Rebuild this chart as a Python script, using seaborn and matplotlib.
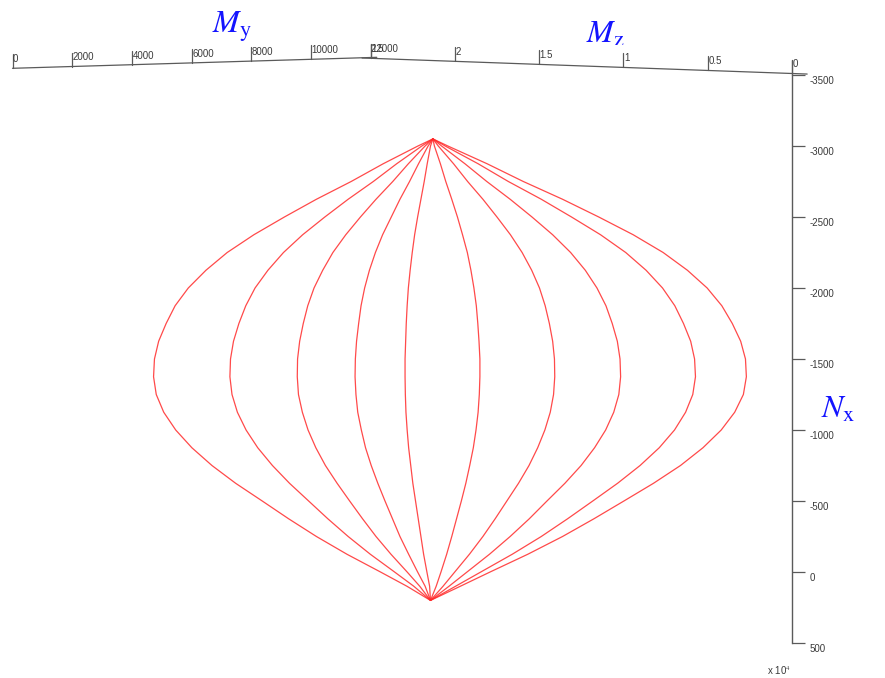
import numpy as np
import pandas as pd
import matplotlib
matplotlib.use("Agg")
import matplotlib.pyplot as plt
import seaborn as sns
from matplotlib.transforms import Bbox, ScaledTranslation

# Axial force levels along each meridian (kN, compression negative)
N_levels = [-3050, -3000, -2875, -2750, -2625, -2500, -2375, -2250, -2125,
            -2000, -1875, -1750, -1625, -1500, -1375, -1250, -1125, -1000,
            -875, -750, -625, -500, -375, -250, -125, 0, 100, 200]

# Projected bending resistance of each meridian of the interaction surface (kN·m)
arc_01 = [30, -470, -1630, -2700, -3860, -4930, -5950, -6840, -7550, -8140, -8580, -8880, -9130, -9270,
          -9300, -9210, -8960, -8560, -8020, -7350, -6560, -5670, -4790, -3860, -2840, -1720, -840, -50]
arc_02 = [30, -340, -1180, -1960, -2800, -3580, -4320, -4960, -5480, -5910, -6220, -6450, -6630, -6730,
          -6750, -6680, -6500, -6210, -5820, -5330, -4760, -4120, -3480, -2800, -2060, -1250, -610, -50]
arc_03 = [30, -230, -790, -1310, -1870, -2390, -2880, -3310, -3650, -3940, -4150, -4300, -4420, -4490,
          -4500, -4460, -4330, -4140, -3880, -3560, -3170, -2750, -2320, -1870, -1370, -830, -410, -50]
arc_04 = [30, -130, -450, -750, -1070, -1360, -1650, -1890, -2090, -2250, -2370, -2450, -2520, -2560,
          -2570, -2540, -2480, -2360, -2220, -2030, -1810, -1570, -1320, -1070, -780, -480, -230, -50]
arc_05 = [30, -50, -160, -260, -370, -480, -580, -660, -730, -790, -830, -860, -880, -900,
          -900, -890, -870, -830, -780, -710, -640, -550, -460, -370, -280, -170, -80, -50]
arc_06 = [30, 80, 280, 460, 660, 850, 1020, 1180, 1300, 1400, 1480, 1530, 1570, 1600,
          1600, 1580, 1540, 1470, 1380, 1260, 1130, 980, 820, 660, 490, 300, 140, -50]
arc_07 = [30, 210, 720, 1190, 1700, 2170, 2620, 3010, 3330, 3590, 3780, 3920, 4030, 4090,
          4100, 4060, 3950, 3770, 3530, 3240, 2890, 2500, 2110, 1700, 1250, 760, 370, -50]
arc_08 = [30, 320, 1100, 1830, 2610, 3340, 4030, 4630, 5120, 5510, 5810, 6020, 6190, 6280,
          6300, 6240, 6070, 5800, 5430, 4980, 4440, 3840, 3250, 2610, 1920, 1170, 570, -50]
arc_09 = [30, 440, 1540, 2550, 3650, 4660, 5630, 6470, 7150, 7700, 8110, 8400, 8640, 8770,
          8800, 8710, 8470, 8100, 7590, 6950, 6200, 5370, 4530, 3650, 2680, 1630, 790, -50]
arc_10 = [30, 530, 1840, 3050, 4360, 5570, 6720, 7720, 8530, 9190, 9680, 10030, 10310, 10470,
          10500, 10400, 10110, 9660, 9050, 8300, 7400, 6410, 5410, 4360, 3200, 1940, 950, -50]

# Axis tick values
my_ticks = [0, 2000, 4000, 6000, 8000, 10000, 12000]
mz_ticks = [2.5, 2, 1.5, 1, 0.5, 0]          # x 10^4
n_ticks = [-3500, -3000, -2500, -2000, -1500, -1000, -500, 0, 500]

arcs = [arc_01, arc_02, arc_03, arc_04, arc_05,
        arc_06, arc_07, arc_08, arc_09, arc_10]
frames = []
for i, arc in enumerate(arcs):
    frames.append(pd.DataFrame({"arc": i, "N": N_levels, "M": arc}))
df = pd.concat(frames, ignore_index=True)

sns.set_theme(style="white")
plt.rcParams["font.family"] = ["Liberation Sans", "DejaVu Sans"]
plt.rcParams["mathtext.fontset"] = "stix"
plt.rcParams["axes.unicode_minus"] = False

W, H = 885, 678
fig = plt.figure(figsize=(W / 100, H / 100), dpi=100)
fig.patch.set_facecolor("white")

axis_grey = "#5a5a5a"
label_grey = "#3a3a3a"

# Data axes: its right spine is the vertical N axis
spine_px = 791.5
top_px, bot_px = 75, 643
ax = fig.add_axes([0, 1 - bot_px / H, spine_px / W, (bot_px - top_px) / H])
ax.patch.set_alpha(0)
sns.lineplot(data=df, x="M", y="N", units="arc", estimator=None, sort=False,
             color="#ff2a2a", lw=0.9, alpha=0.85, legend=False, ax=ax)
px_to_M = 33.4
ax.set_xlim(-432 * px_to_M, (spine_px - 432) * px_to_M)
ax.set_ylim(500, -3500)
ax.set_xlabel("")
ax.set_ylabel("")
ax.set_xticks([])
for side in ["left", "top", "bottom"]:
    ax.spines[side].set_visible(False)
ax.spines["right"].set_color(axis_grey)
ax.spines["right"].set_linewidth(1.0)
ax.yaxis.tick_right()
ax.set_yticks(n_ticks)
ax.set_yticklabels([str(v) for v in n_ticks])
ax.tick_params(axis="y", direction="out", length=9, width=0.9, color=axis_grey,
               pad=4, labelsize=7, labelcolor=label_grey, right=True, left=False)
shift = ScaledTranslation(0, -0.05, fig.dpi_scale_trans)
for lab in ax.get_yticklabels():
    lab.set_transform(lab.get_transform() + shift)

# Overlay in pixel units for the two upper moment axes and the titles
ov = fig.add_axes([0, 0, 1, 1])
ov.set_xlim(0, W)
ov.set_ylim(H, 0)
ov.axis("off")
ov.patch.set_alpha(0)

def my_pos(v):
    return 12.5 + v * (358.3 / 12000), 68.3 - v * (10.8 / 12000)

def mz_pos(v):
    return 792 - v * 168.6, 73.5 - v * 6.08

lw_ax = 0.9
x0, y0 = my_pos(0)
x1, y1 = my_pos(12200)
ov.plot([x0, x1], [y0, y1], color=axis_grey, lw=lw_ax)
x0, y0 = mz_pos(2.55)
x1, y1 = mz_pos(-0.09)
ov.plot([x0, x1], [y0, y1], color=axis_grey, lw=lw_ax)
ov.plot([spine_px, spine_px], [60, top_px], color=axis_grey, lw=lw_ax)

for v in my_ticks:
    x, y = my_pos(v)
    ov.plot([x, x], [y, y - 14], color=axis_grey, lw=lw_ax)
    ov.text(x + 0.5, y - 6, str(v), fontsize=7, color=label_grey,
            ha="left", va="baseline")
for v in mz_ticks:
    x, y = mz_pos(v)
    ov.plot([x, x], [y, y - 14], color=axis_grey, lw=lw_ax)
    ov.text(x + 0.5, y - 6.5, f"{v:g}", fontsize=7, color=label_grey,
            ha="left", va="baseline")

ov.text(767, 675, r"x 10$^{4}$", fontsize=7, color=label_grey,
        ha="left", va="baseline")

blue = "#1414ff"
ov.text(212, 33, r"$M_{\mathrm{y}}$", fontsize=23, color=blue,
        ha="left", va="baseline")
mz = ov.text(586, 43, r"$M_{\mathrm{z}}$", fontsize=23, color=blue,
             ha="left", va="baseline")
mz.set_clip_box(Bbox([[0, H - 44.5], [W, H]]))
mz.set_clip_on(True)
ov.text(821, 418, r"$N_{\mathrm{x}}$", fontsize=23, color=blue,
        ha="left", va="baseline")

fig.savefig("out.png", dpi=100, facecolor="white")
